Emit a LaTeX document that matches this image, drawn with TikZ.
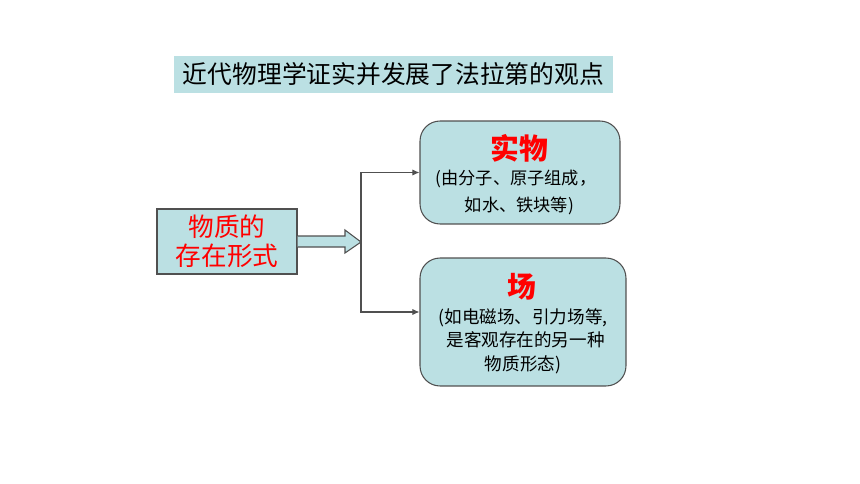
\documentclass[tikz,border=0pt]{standalone}
\usepackage{fontspec}
\usetikzlibrary{arrows.meta}
\newfontfamily\cjk{Noto Sans CJK SC}
\definecolor{boxfill}{RGB}{187,224,227}
\definecolor{boxline}{RGB}{80,80,80}

\begin{document}
\begin{tikzpicture}[x=0.02cm,y=-0.02cm,font=\cjk,
  plainbox/.style={draw=boxline,fill=boxfill,line width=0.6pt,align=center,inner sep=0pt},
  roundbox/.style={plainbox,rounded corners=0.4cm},
  lead/.style={draw=boxline,line width=0.6pt,-{Latex[length=4pt,width=3.5pt]}}]
\useasboundingbox (0,0) rectangle (860,484);
% heading
\node[fill=boxfill,minimum width=8.78cm,minimum height=0.74cm,font=\cjk\fontsize{14.1}{16}\selectfont] (title) at (393.5,74.5) {近代物理学证实并发展了法拉第的观点};
% left box
\node[plainbox,minimum width=2.8cm,minimum height=1.3cm,text=red,font=\cjk\fontsize{14.6}{16.8}\selectfont] (mat) at (227,241.5) {物质的\\存在形式};
% right boxes
\node[roundbox,minimum width=4cm,minimum height=2.06cm] (solid) at (520,172.5) {};
\node[roundbox,minimum width=4.12cm,minimum height=2.56cm] (field) at (523,322) {};
\node[text=red,font=\cjk\bfseries\fontsize{16.4}{18}\selectfont] (solidname) at (519,148) {实物};
\node[align=center,font=\cjk\fontsize{9.8}{15.3}\selectfont] (solidtext) at (516,192.5) {(由分子、原子组成，\\\hspace{0.4em}如水、铁块等)};
\node[text=red,font=\cjk\bfseries\fontsize{16.4}{18}\selectfont] (fieldname) at (522,287) {场};
\node[align=center,font=\cjk\fontsize{10}{13.4}\selectfont] (fieldtext) at (523,341) {(如电磁场、引力场等,\\\hspace{0.3em}是客观存在的另一种\\物质形态)};
% block arrow and branches
\coordinate (split) at (361,242);
\filldraw[draw=boxline,fill=boxfill,line width=0.6pt] (mat.east |- 0,236)--(345,236)--(345,230)--(split)--(345,253)--(345,247)--(mat.east |- 0,247);
\draw[lead] (split) |- (solid.west);
\draw[lead] (split) |- ([yshift=5.7pt]field.west);
\end{tikzpicture}
\end{document}
